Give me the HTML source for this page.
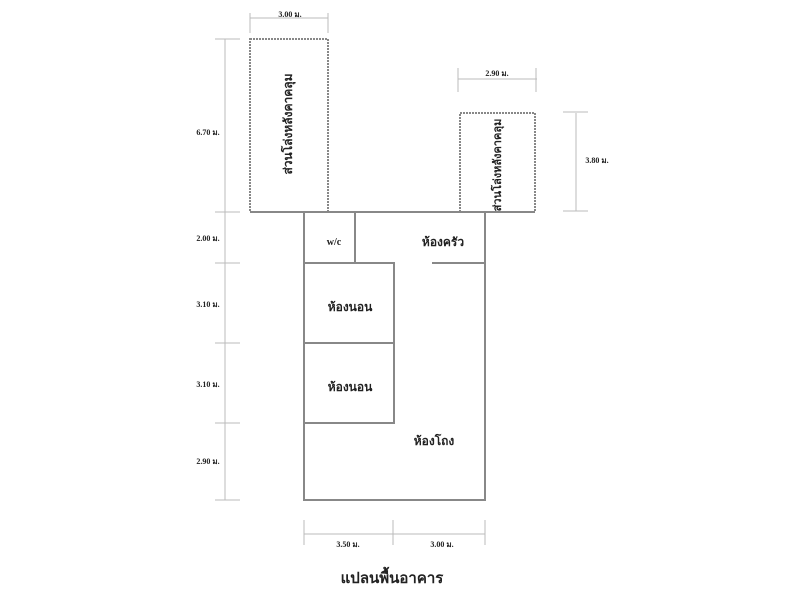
<!DOCTYPE html>
<html><head><meta charset="utf-8"><style>
html,body{margin:0;padding:0;background:#fff;width:785px;height:600px;overflow:hidden}
text{font-family:"Liberation Serif","Noto Serif CJK SC","Noto Sans CJK SC",serif;font-weight:bold;fill:#222}
.d{font-size:8px}
.r{font-size:12px}
</style></head><body>
<svg width="785" height="600" viewBox="0 0 785 600" xmlns="http://www.w3.org/2000/svg">
<g fill="none" stroke="#888" stroke-width="2">
<rect x="250" y="39" width="78" height="173" stroke-dasharray="2,1"/>
<rect x="460" y="113" width="75" height="99" stroke-dasharray="2,1"/>
<polyline points="250,212 535,212"/>
<polyline points="304,212 304,500 485,500 485,212"/>
<line x1="355" y1="212" x2="355" y2="263"/>
<line x1="432" y1="263" x2="485" y2="263"/>
<polyline points="304,263 394,263 394,423 304,423"/>
<line x1="304" y1="343" x2="394" y2="343"/>
</g>
<g stroke="#bbb" stroke-width="1" fill="none">
<line x1="225" y1="39" x2="225" y2="500"/>
<line x1="215" y1="39" x2="240" y2="39"/>
<line x1="215" y1="212" x2="240" y2="212"/>
<line x1="215" y1="263" x2="240" y2="263"/>
<line x1="215" y1="343" x2="240" y2="343"/>
<line x1="215" y1="423" x2="240" y2="423"/>
<line x1="215" y1="500" x2="240" y2="500"/>
<line x1="250" y1="18" x2="328" y2="18"/>
<line x1="250" y1="13" x2="250" y2="33"/>
<line x1="328" y1="13" x2="328" y2="33"/>
<line x1="458" y1="79" x2="537" y2="79"/>
<line x1="458" y1="68" x2="458" y2="92"/>
<line x1="536" y1="68" x2="536" y2="92"/>
<line x1="576" y1="113" x2="576" y2="211"/>
<line x1="563" y1="112" x2="588" y2="112"/>
<line x1="563" y1="211" x2="588" y2="211"/>
<line x1="304" y1="534" x2="485" y2="534"/>
<line x1="304" y1="520" x2="304" y2="545"/>
<line x1="393" y1="520" x2="393" y2="545"/>
<line x1="485" y1="520" x2="485" y2="545"/>
</g>
<g class="d" text-anchor="middle">
<text x="290" y="17">3.00 ม.</text>
<text x="497" y="76">2.90 ม.</text>
<text x="597" y="163">3.80 ม.</text>
<text x="208" y="135">6.70 ม.</text>
<text x="208" y="241">2.00 ม.</text>
<text x="208" y="307">3.10 ม.</text>
<text x="208" y="387">3.10 ม.</text>
<text x="208" y="464">2.90 ม.</text>
<text x="348" y="547">3.50 ม.</text>
<text x="442" y="547">3.00 ม.</text>
</g>
<g class="r" text-anchor="middle">
<text x="334" y="245" font-size="10">w/c</text>
<text x="443" y="246">ห้องครัว</text>
<text x="350" y="311">ห้องนอน</text>
<text x="350" y="391">ห้องนอน</text>
<text x="434" y="445">ห้องโถง</text>
<text transform="translate(292,124) rotate(-90)">ส่วนโล่งหลังคาคลุม</text>
<text transform="translate(501,165) rotate(-90)" font-size="11">ส่วนโล่งหลังคาคลุม</text>
<text x="392" y="583" font-size="15">แปลนพื้นอาคาร</text>
</g>
</svg>
</body></html>
